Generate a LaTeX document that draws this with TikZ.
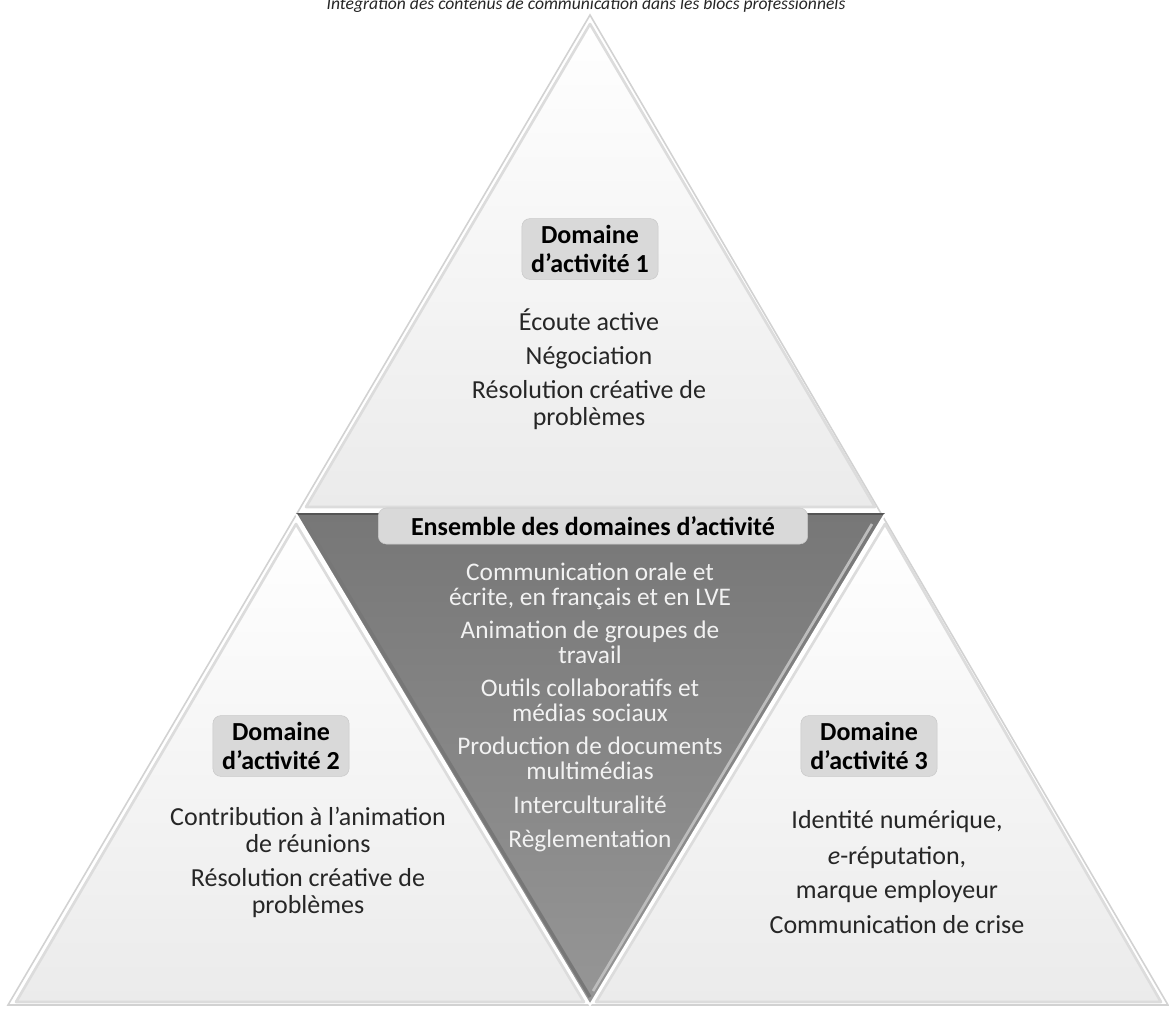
\documentclass[tikz,border=0pt]{standalone}
\usepackage{fontspec}
\setmainfont{Carlito}
\usetikzlibrary{calc}

\definecolor{facetlow}{HTML}{EBEBEB}
\definecolor{facetedge}{HTML}{DCDCDC}
\definecolor{outline}{HTML}{D2D2D2}
\definecolor{coretop}{HTML}{777777}
\definecolor{corelow}{HTML}{969696}
\definecolor{coredark}{HTML}{555555}
\definecolor{corelight}{HTML}{BDBDBD}
\definecolor{boxfill}{HTML}{D9D9D9}
\definecolor{boxedge}{HTML}{C9C9C9}
\definecolor{itemtext}{HTML}{262626}
\definecolor{coretext}{HTML}{F2F2F2}

\begin{document}
\begin{tikzpicture}[x=0.75pt,y=-0.75pt,
  facet/.style={top color=white,bottom color=facetlow,draw=facetedge,line width=2pt,line join=round},
  domainbox/.style={draw=boxedge,fill=boxfill,rounded corners=6pt,align=center,text=black,
    font=\bfseries\fontsize{19.5}{21.75}\selectfont,inner xsep=7pt,inner ysep=5pt},
  item/.style={align=center,anchor=base,text=itemtext,font=\fontsize{19.5}{20.25}\selectfont},
  coreitem/.style={item,text=coretext,font=\fontsize{19}{18.5}\selectfont}]
\useasboundingbox (0,0) rectangle (1169,1010);
\coordinate (apex) at (590,15);
\coordinate (ml) at (296,514);
\coordinate (mr) at (885,514);
\coordinate (bl) at (8,1005);
\coordinate (bm) at (590,1005);
\coordinate (br) at (1168,1005);
% title (cut by the top of the page)
\node[anchor=base,text=itemtext,font=\itshape\fontsize{13.2}{16}\selectfont] (title) at (586,9)
 {Intégration des contenus de communication dans les blocs professionnels};
% outer triangle
\draw[outline,line width=1.2pt] (apex) -- (bl) -- (br) -- cycle;
% three light facets
\draw[facet] (590,24) -- (306,507) -- (875,507) -- cycle;
\draw[facet] (296,524) -- (16,1002) -- (584,1002) -- cycle;
\draw[facet] (885,524) -- (596,1002) -- (1161,1002) -- cycle;
% central facet
\shade[top color=coretop,bottom color=corelow] (ml) -- (mr) -- (bm) -- cycle;
\draw[coredark,line width=2pt] (ml) -- (mr);
\draw[coredark!80,line width=2.5pt] (303,519) -- (590,997);
\draw[corelight,line width=2pt] (872,524) -- (593,991);
\draw[white,line width=1.5pt] (ml) -- (bm) -- (mr);
% domaine 1
\node[domainbox] (dom1) at (590,249) {Domaine\\d’activité 1};
\node[item] (ecoute) at (589,330) {Écoute active};
\node[item] (nego) at (589,364) {Négociation};
\node[item] (resol1) at (589,425) {Résolution créative de\\problèmes};
% ensemble
\node[domainbox,minimum width=322pt,minimum height=27pt,inner ysep=2pt] (ens) at (593,526) {Ensemble des domaines d’activité};
\node[coreitem] (comm) at (590,605) {Communication orale et\\écrite, en français et en LVE};
\node[coreitem] (anim) at (590,663) {Animation de groupes de\\travail};
\node[coreitem] (outils) at (590,721) {Outils collaboratifs et\\médias sociaux};
\node[coreitem] (prod) at (590,779) {Production de documents\\multimédias};
\node[coreitem] (inter) at (590,813) {Interculturalité};
\node[coreitem] (regl) at (590,847) {Règlementation};
% domaine 2
\node[domainbox] (dom2) at (281,746) {Domaine\\d’activité 2};
\node[item] (contrib) at (308,852) {Contribution à l'animation\\de réunions};
\node[item] (resol2) at (308,913) {Résolution créative de\\problèmes};
% domaine 3
\node[domainbox] (dom3) at (869,746) {Domaine\\d’activité 3};
\node[item] (ident) at (897,828) {Identité numérique,};
\node[item] (ereput) at (897,864) {\textit{e}-réputation,};
\node[item] (marque) at (897,898) {marque employeur};
\node[item] (crise) at (897,933) {Communication de crise};
\end{tikzpicture}
\end{document}
